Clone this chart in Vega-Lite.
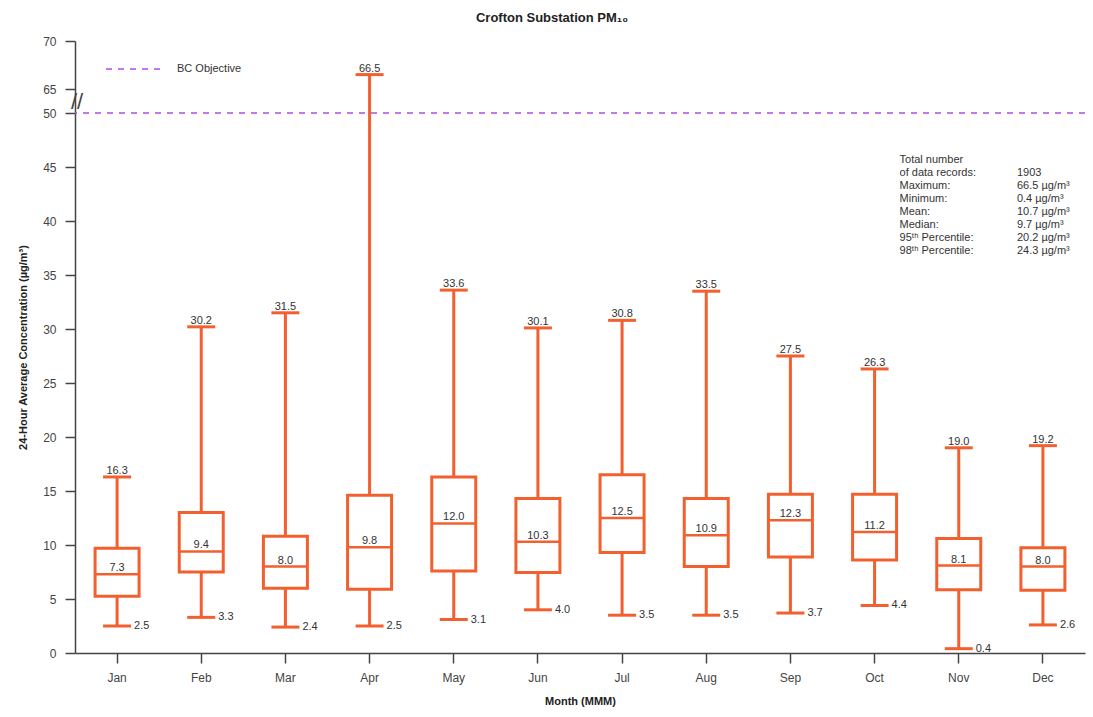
{
  "$schema": "https://vega.github.io/schema/vega-lite/v6.json",
  "autosize": {"type": "none"},
  "padding": {"left": 75, "top": 41, "right": 8, "bottom": 64},
  "width": 1010,
  "height": 612,
  "background": "white",
  "title": {
    "text": "Crofton Substation PM₁₀",
    "font": "Liberation Sans",
    "fontSize": 13,
    "fontWeight": "bold",
    "color": "#222",
    "dx": -28,
    "offset": 10
  },
  "config": {
    "view": {"stroke": null},
    "font": "Liberation Sans",
    "tick": {"opacity": 1},
    "axis": {
      "grid": false,
      "domainColor": "#444",
      "domainWidth": 1.5,
      "tickColor": "#444",
      "tickWidth": 1.5,
      "tickSize": 10,
      "labelFont": "Liberation Sans",
      "labelFontSize": 12,
      "labelColor": "#444",
      "titleFont": "Liberation Sans",
      "titleFontSize": 11,
      "titleFontWeight": "bold",
      "titleColor": "#222"
    }
  },
  "data": {
    "values": [
      {"month": "Jan", "min": 2.5, "q1": 5.25, "median": 7.3, "q3": 9.7, "max": 16.3},
      {"month": "Feb", "min": 3.3, "q1": 7.5, "median": 9.4, "q3": 13.0, "max": 30.2},
      {"month": "Mar", "min": 2.4, "q1": 6.0, "median": 8.0, "q3": 10.8, "max": 31.5},
      {"month": "Apr", "min": 2.5, "q1": 5.9, "median": 9.8, "q3": 14.6, "max": 66.5},
      {"month": "May", "min": 3.1, "q1": 7.6, "median": 12.0, "q3": 16.3, "max": 33.6},
      {"month": "Jun", "min": 4.0, "q1": 7.45, "median": 10.3, "q3": 14.3, "max": 30.1},
      {"month": "Jul", "min": 3.5, "q1": 9.3, "median": 12.5, "q3": 16.5, "max": 30.8},
      {"month": "Aug", "min": 3.5, "q1": 8.0, "median": 10.9, "q3": 14.3, "max": 33.5},
      {"month": "Sep", "min": 3.7, "q1": 8.9, "median": 12.3, "q3": 14.7, "max": 27.5},
      {"month": "Oct", "min": 4.4, "q1": 8.6, "median": 11.2, "q3": 14.7, "max": 26.3},
      {"month": "Nov", "min": 0.4, "q1": 5.85, "median": 8.1, "q3": 10.6, "max": 19.0},
      {"month": "Dec", "min": 2.6, "q1": 5.8, "median": 8.0, "q3": 9.75, "max": 19.2}
    ]
  },
  "encoding": {
    "x": {
      "field": "month",
      "type": "nominal",
      "sort": ["Jan", "Feb", "Mar", "Apr", "May", "Jun", "Jul", "Aug", "Sep", "Oct", "Nov", "Dec"],
      "scale": {"type": "band", "paddingInner": 0, "paddingOuter": 0},
      "axis": {"labelAngle": 0, "title": "Month (MMM)", "labelPadding": 9, "titlePadding": 12}
    }
  },
  "layer": [
    {
      "data": {"values": [{"label": "BC Objective", "value": 50}]},
      "mark": {"type": "rule", "strokeWidth": 1.5, "strokeDash": [6, 6]},
      "encoding": {
        "x": null,
        "y": {
          "field": "value",
          "type": "quantitative",
          "scale": {"domain": [0, 50, 65, 70], "range": [612, 72, 48, 0], "nice": false, "zero": false, "clamp": false},
          "axis": {
            "values": [0, 5, 10, 15, 20, 25, 30, 35, 40, 45, 50, 65, 70],
            "title": "24-Hour Average Concentration (µg/m³)",
            "labelPadding": 9,
            "titlePadding": 14
          }
        },
        "color": {
          "field": "label",
          "type": "nominal",
          "scale": {"range": ["#b04ee0"]},
          "legend": {
            "orient": "none",
            "legendX": 30,
            "legendY": -3,
            "title": null,
            "padding": 0,
            "symbolType": "stroke",
            "symbolSize": 3600,
            "symbolStrokeWidth": 1.5,
            "symbolDash": [6, 6],
            "labelFont": "Liberation Sans",
            "labelFontSize": 11,
            "labelColor": "#333",
            "labelOffset": 10
          }
        }
      }
    },
    {
      "mark": {"type": "rule", "color": "#f2602f", "strokeWidth": 3},
      "encoding": {
        "y": {"field": "min", "type": "quantitative"},
        "y2": {"field": "max"}
      }
    },
    {
      "mark": {"type": "tick", "color": "#f2602f", "size": 28, "thickness": 3, "orient": "horizontal", "opacity": 1},
      "encoding": {"y": {"field": "min", "type": "quantitative"}}
    },
    {
      "mark": {"type": "tick", "color": "#f2602f", "size": 28, "thickness": 3, "orient": "horizontal", "opacity": 1},
      "encoding": {"y": {"field": "max", "type": "quantitative"}}
    },
    {
      "mark": {"type": "bar", "width": 44, "fill": "white", "stroke": "#f2602f", "strokeWidth": 3},
      "encoding": {
        "y": {"field": "q1", "type": "quantitative"},
        "y2": {"field": "q3"}
      }
    },
    {
      "mark": {"type": "tick", "color": "#f2602f", "size": 44, "thickness": 2.5, "orient": "horizontal", "opacity": 1},
      "encoding": {"y": {"field": "median", "type": "quantitative"}}
    },
    {
      "mark": {"type": "text", "fontSize": 11, "color": "#333", "baseline": "bottom", "dy": -1},
      "encoding": {
        "y": {"field": "max", "type": "quantitative"},
        "text": {"field": "max", "type": "quantitative", "format": ".1f"}
      }
    },
    {
      "mark": {"type": "text", "fontSize": 11, "color": "#333", "baseline": "bottom", "dy": -1},
      "encoding": {
        "y": {"field": "median", "type": "quantitative"},
        "text": {"field": "median", "type": "quantitative", "format": ".1f"}
      }
    },
    {
      "mark": {"type": "text", "fontSize": 11, "color": "#333", "baseline": "middle", "align": "left", "dx": 17},
      "encoding": {
        "y": {"field": "min", "type": "quantitative"},
        "text": {"field": "min", "type": "quantitative", "format": ".1f"}
      }
    },
    {
      "data": {"values": [{"month": "Jan", "brk": 57.0}]},
      "mark": {"type": "text", "text": "//", "fontSize": 22, "color": "#444", "dx": -40, "baseline": "middle", "align": "center"},
      "encoding": {
        "y": {"field": "brk", "type": "quantitative"}
      }
    },
    {
      "data": {"values": [{"month": "Oct", "pos": 46.2}]},
      "mark": {
        "type": "text",
        "text": ["Total number", "of data records:", "Maximum:", "Minimum:", "Mean:", "Median:", "95ᵗʰ Percentile:", "98ᵗʰ Percentile:"],
        "fontSize": 11, "color": "#333", "align": "left", "baseline": "top", "lineHeight": 13, "dx": 25
      },
      "encoding": {"y": {"field": "pos", "type": "quantitative"}}
    },
    {
      "data": {"values": [{"month": "Dec", "pos": 46.2}]},
      "mark": {
        "type": "text",
        "text": [" ", "1903", "66.5 µg/m³", "0.4 µg/m³", "10.7 µg/m³", "9.7 µg/m³", "20.2 µg/m³", "24.3 µg/m³"],
        "fontSize": 11, "color": "#333", "align": "left", "baseline": "top", "lineHeight": 13, "dx": -26
      },
      "encoding": {"y": {"field": "pos", "type": "quantitative"}}
    }
  ]
}
